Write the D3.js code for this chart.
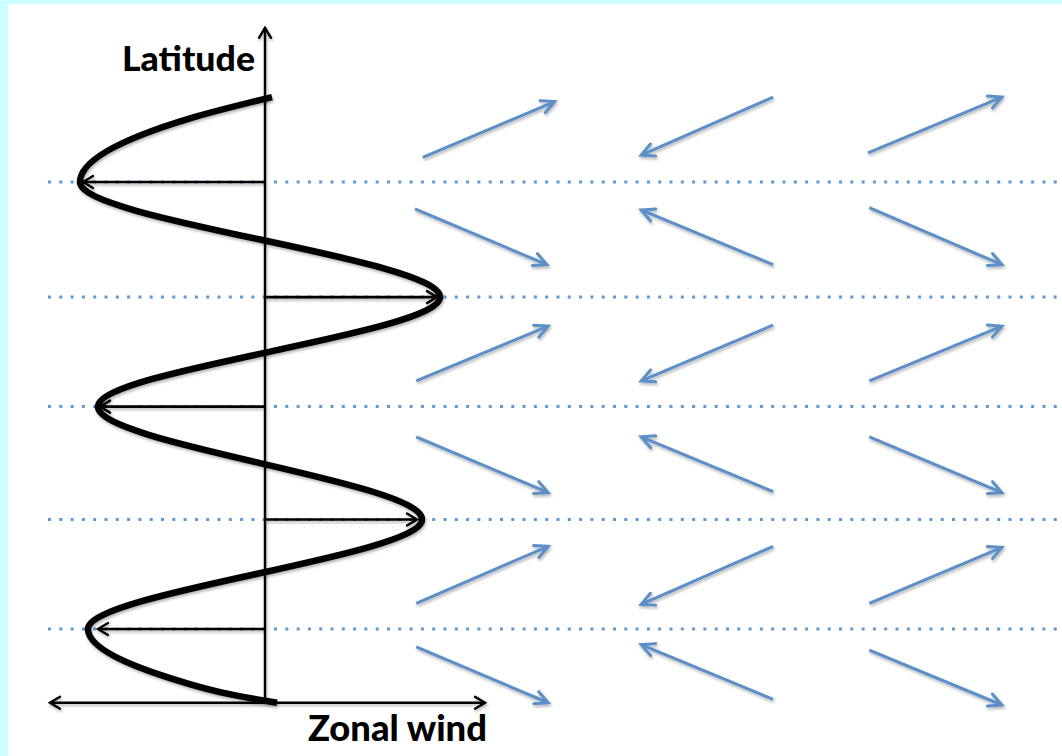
<!DOCTYPE html>
<html><head><meta charset="utf-8">
<script src="https://cdn.jsdelivr.net/npm/d3@7"></script>
<style>html,body{margin:0;padding:0;background:#ccffff;overflow:hidden} svg{display:block}</style>
</head><body>
<svg id="c" width="1062" height="756"></svg>
<script>
// ---------- data ----------
// latitudes of the dotted jet lines
const jetLats = [50, 39.7, 29.9, 19.8, 10];
// zonal-wind value at each jet (tip of the black arrows)
const jetTipU = [-9.1, 8.6, -8.25, 7.6, -8.35];
// zonal-wind profile (thick black curve)
const profileU   = [0.35, -3.75, -9.25, 8.75, -8.35, 7.85, -8.85, -4.9, -1.6, 0.6];
const profileLat = [57.6, 55.7, 50.0, 39.7, 29.9, 19.8, 10.0, 5.7, 4.1, 3.4];
// axis extents
const uAxisExtent = [-10.75, 11];
const latAxisExtent = [3.4, 63.8];
const dottedExtentU = [-10.85, 40];
// wind vectors on the map (tail lon/lat -> head lon/lat)
const tailLon = [3.5, 57.4, 72.0,  2.3, 57.4, 72.2,  2.5, 57.4, 72.2,  2.5, 57.4, 72.2,  2.5, 57.4, 72.2,  2.5, 57.4, 72.2];
const tailLat = [52.2, 57.6, 52.6, 47.6, 42.6, 47.7, 32.2, 37.2, 32.2, 27.2, 22.3, 27.2, 12.3, 17.4, 12.3, 8.4, 3.7, 8.1];
const headLon = [23.8, 37.1, 92.6, 22.6, 37.1, 92.6, 22.8, 37.1, 92.6, 22.8, 37.1, 92.6, 22.8, 37.1, 92.6, 22.8, 37.1, 92.6];
const headLat = [57.2, 52.4, 57.6, 42.6, 47.5, 42.6, 37.1, 32.2, 37.1, 22.2, 27.2, 22.2, 17.4, 12.2, 17.3, 3.4, 8.6, 3.2];
const labels = {y: "Latitude", x: "Zonal wind"};

// ---------- scales ----------
const W = 1062, H = 756;
const y = d3.scaleLinear().domain([0, 50]).range([740.75, 182]);
const u = d3.scaleLinear().domain([-10, 10]).range([65, 465]);
const lon = d3.scaleLinear().domain([0, 100]).range([400, 1050]);

const svg = d3.select("#c");
svg.append("rect").attr("x", 8).attr("y", 4).attr("width", W - 8).attr("height", H - 4).attr("fill", "#ffffff");

const defs = svg.append("defs");
function marker(id, color, len, half, sw) {
  defs.append("marker").attr("id", id).attr("markerUnits", "userSpaceOnUse")
    .attr("viewBox", "-20 -12 24 24").attr("refX", 0).attr("refY", 0)
    .attr("markerWidth", 24).attr("markerHeight", 24).attr("orient", "auto")
    .append("path").attr("d", `M${-len},${-half} L0,0 L${-len},${half}`)
    .attr("fill", "none").attr("stroke", color).attr("stroke-width", sw)
    .attr("stroke-linejoin", "miter").attr("stroke-linecap", "round");
}
marker("blk", "#000", 10, 6, 2.4);
marker("blu", "#5b8fc8", 13, 6.5, 3);

const sh = defs.append("filter").attr("id", "sh").attr("x", "-10%").attr("y", "-10%").attr("width", "130%").attr("height", "130%");
sh.append("feDropShadow").attr("dx", 1).attr("dy", 2).attr("stdDeviation", 1.5).attr("flood-color", "#000").attr("flood-opacity", 0.3);

// dotted lines
svg.append("g").selectAll("line").data(jetLats).join("line")
  .attr("x1", u(dottedExtentU[0])).attr("x2", u(dottedExtentU[1]))
  .attr("y1", d => y(d)).attr("y2", d => y(d))
  .attr("stroke", "#5f98d4").attr("stroke-width", 3).attr("stroke-dasharray", "3 8.3");

// wind vectors
svg.append("g").selectAll("line").data(d3.range(tailLon.length)).join("line")
  .attr("x1", i => lon(tailLon[i])).attr("y1", i => y(tailLat[i]))
  .attr("x2", i => lon(headLon[i])).attr("y2", i => y(headLat[i]))
  .attr("stroke", "#5b8fc8").attr("stroke-width", 3).attr("marker-end", "url(#blu)")
  .attr("filter", "url(#sh)");

// axes
const ax = svg.append("g").attr("filter", "url(#sh)");
ax.append("line").attr("x1", u(0)).attr("x2", u(0))
  .attr("y1", y(latAxisExtent[0])).attr("y2", y(latAxisExtent[1]))
  .attr("stroke", "#000").attr("stroke-width", 2.4).attr("marker-end", "url(#blk)");
ax.append("line").attr("x1", u(0)).attr("x2", u(uAxisExtent[1]))
  .attr("y1", y(latAxisExtent[0])).attr("y2", y(latAxisExtent[0]))
  .attr("stroke", "#000").attr("stroke-width", 2.4).attr("marker-end", "url(#blk)");
ax.append("line").attr("x1", u(0)).attr("x2", u(uAxisExtent[0]))
  .attr("y1", y(latAxisExtent[0])).attr("y2", y(latAxisExtent[0]))
  .attr("stroke", "#000").attr("stroke-width", 2.4).attr("marker-end", "url(#blk)");

// jet arrows
ax.selectAll("line.jet").data(jetLats).join("line").attr("class", "jet")
  .attr("x1", u(0)).attr("x2", (d, i) => u(jetTipU[i]))
  .attr("y1", d => y(d)).attr("y2", d => y(d))
  .attr("stroke", "#000").attr("stroke-width", 2.6).attr("marker-end", "url(#blk)");

// profile curve
const line = d3.line().x(i => u(profileU[i])).y(i => y(profileLat[i])).curve(d3.curveMonotoneY);
svg.append("path").attr("d", line(d3.range(profileU.length)))
  .attr("fill", "none").attr("stroke", "#000").attr("stroke-width", 6.5)
  .attr("stroke-linecap", "butt").attr("filter", "url(#sh)");

// labels
svg.append("text").attr("x", 122).attr("y", 71).text(labels.y)
  .attr("font-family", "Lato, 'Open Sans', sans-serif").attr("font-weight", 900).attr("font-size", 35)
  .attr("textLength", 133).attr("lengthAdjust", "spacingAndGlyphs");
svg.append("text").attr("x", 308).attr("y", 741).text(labels.x)
  .attr("font-family", "Lato, 'Open Sans', sans-serif").attr("font-weight", 900).attr("font-size", 36)
  .attr("textLength", 179).attr("lengthAdjust", "spacingAndGlyphs");
</script>
</body></html>
